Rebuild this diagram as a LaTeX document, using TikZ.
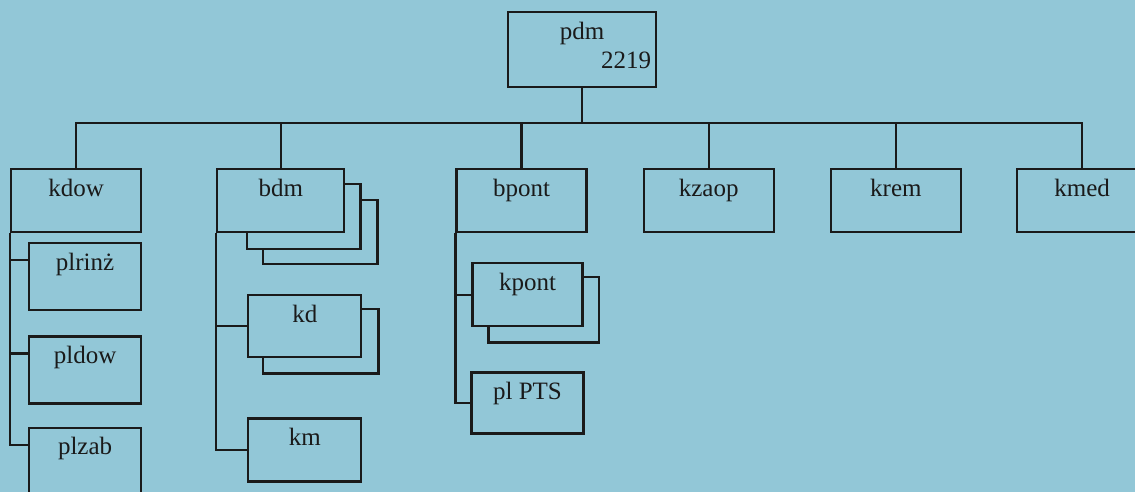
\documentclass[tikz,border=0pt]{standalone}
\usepackage{fontspec}
\setmainfont{Liberation Serif}
\usetikzlibrary{positioning,calc}
\definecolor{Bpaper}{RGB}{146,199,215}
\definecolor{Bink}{HTML}{1A1A1A}

\begin{document}
\begin{tikzpicture}[
  x=1pt, y=-1pt, line width=2.2pt, draw=Bink,
  font=\fontsize{25}{30}\selectfont, text=Bink,
  unit/.style  ={draw, inner sep=0pt, text height=27pt, text depth=36pt, minimum width=130pt},
  sub/.style   ={draw, inner sep=0pt, text height=27pt, text depth=36pt, minimum width=113pt},
  post/.style  ={sub, text depth=40pt, minimum width=112pt},
]
\clip (0,0) rectangle (1135,492);
\fill[Bpaper] (0,0) rectangle (1135,492);

% -- head -------------------------------------------------------------
\node[draw, inner sep=0pt, text height=27pt, text depth=48pt, minimum width=148pt,
      anchor=north west] (pdm) at (507,11) {pdm};
\node[anchor=base east, inner sep=0pt] (pdmno) at ([shift={(-5,58)}]pdm.north east) {2219};

% -- first level -----------------------------------------------------
\node[unit, anchor=north west] (kdow) at (10,168) {kdow};
\node[unit, right=74pt of kdow, minimum width=127pt] (bdm) {bdm};
\node[unit, right=110pt of bdm] (bpont) {bpont};
\node[unit, right=55pt of bpont] (kzaop) {kzaop};
\node[unit, right=55pt of kzaop] (krem) {krem};
\node[unit, right=54pt of krem] (kmed) {kmed};

\foreach \n in {kdow,bdm,bpont,kzaop,krem,kmed}
  \draw (pdm.south) -- ++(0,35) -| (\n.north);

% -- under kdow ------------------------------------------------------
\node[post, below right=9pt and 18pt of kdow.south west] (plrinz) {plrinż};
\node[post, below=24pt of plrinz] (pldow) {pldow};
\node[post, below=22pt of pldow] (plzab) {plzab};
\foreach \n in {plrinz,pldow,plzab}
  \draw (kdow.south west) |- ([yshift=-18pt]\n.north west);

% -- under bdm -------------------------------------------------------
\node[sub, below right=61pt and 31pt of bdm.south west, text depth=35pt] (kd) {kd};
\node[sub, below=59pt of kd] (km) {km};
\draw (bdm.south west) |- (kd.west);
\draw (bdm.south west) |- (km.west);

% stacked copies behind bdm and kd
\draw ([yshift=-16pt]bdm.north east) -| ([shift={(15,16)}]bdm.south east) -| ([xshift=31pt]bdm.south west);
\draw ([shift={(15,32)}]bdm.north east) -| ([shift={(32,31)}]bdm.south east) -| ([shift={(47,16)}]bdm.south west);
\draw ([yshift=-15pt]kd.north east) -| ([shift={(16,15)}]kd.south east) -| ([xshift=16pt]kd.south west);

% -- under bpont -----------------------------------------------------
\node[sub, below right=29pt and 16pt of bpont.south west, minimum width=110pt] (kpont) {kpont};
\node[sub, below=44pt of kpont, text depth=34pt, minimum width=112pt] (plpts) {pl PTS};
\draw (bpont.south west) |- (kpont.west);
\draw (bpont.south west) |- (plpts.west);
\draw ([yshift=-15pt]kpont.north east) -| ([shift={(15,15)}]kpont.south east) -| ([xshift=17pt]kpont.south west);

\end{tikzpicture}
\end{document}
